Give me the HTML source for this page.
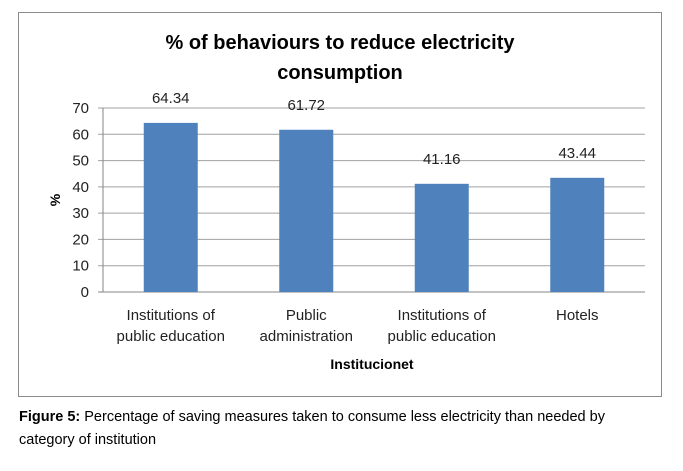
<!DOCTYPE html>
<html><head><meta charset="utf-8"><style>
body{margin:0;background:#fff;font-family:"Liberation Sans",sans-serif;}
.cap{position:absolute;left:19px;font-size:14.5px;color:#000;}
</style></head><body>
<div style="position:relative;width:683px;height:471px;">
<svg width="683" height="400" style="position:absolute;left:0;top:0">
<rect x="18.5" y="12.5" width="643" height="384" fill="#fff" stroke="#8c8c8c"/>
<text x="340" y="49" text-anchor="middle" font-size="20" font-weight="bold">% of behaviours to reduce electricity</text>
<text x="340" y="79" text-anchor="middle" font-size="20" font-weight="bold">consumption</text>
<text transform="translate(60,200) rotate(-90)" text-anchor="middle" font-size="14" font-weight="bold">%</text>
<text x="372" y="369" text-anchor="middle" font-size="14" font-weight="bold">Institucionet</text>
<g id="plot"></g>
</svg>
<div class="cap" style="top:409px"><b>Figure 5:</b> Percentage of saving measures taken to consume less electricity than needed by</div>
<div class="cap" style="top:432px">category of institution</div>
</div>
<script>
const categories=[["Institutions of","public education"],["Public","administration"],["Institutions of","public education"],["Hotels"]];
const values=[64.34,61.72,41.16,43.44];
const valueLabels=["64.34","61.72","41.16","43.44"];
const ticks=[0,10,20,30,40,50,60,70];
const NS="http://www.w3.org/2000/svg";
const g=document.getElementById('plot');
const x0=103,x1=645,y0=292,y1=108,max=70;
const yS=v=>y0-(v/max)*(y0-y1);
const bw=(x1-x0)/categories.length;
const xC=i=>x0+bw*(i+0.5);
function mk(t,a){const e=document.createElementNS(NS,t);for(const k in a)e.setAttribute(k,a[k]);g.appendChild(e);return e;}
ticks.forEach(t=>{
  const l=mk('line',{x1:x0-5,x2:x1,y1:yS(t),y2:yS(t),stroke:t===0?'#868686':'#a0a0a0','stroke-width':1});
  
  
  const tx=mk('text',{x:x0-14,y:yS(t)+5,'text-anchor':'end','font-size':15,fill:'#222'});
  tx.textContent=t;
  
  
});
const ax=mk('line',{x1:x0,x2:x0,y1:y1,y2:y0,stroke:'#868686'});


values.forEach((v,i)=>{
  const r=mk('rect',{x:xC(i)-27,y:yS(v),width:54,height:y0-yS(v),fill:'#4f81bd'});
  
  
  const t=mk('text',{x:xC(i),y:yS(v)-20,'text-anchor':'middle','font-size':15,fill:'#222'});
  t.textContent=valueLabels[i];
  
  
  categories[i].forEach((s,j)=>{
    const c=mk('text',{x:xC(i),y:320+j*21,'text-anchor':'middle','font-size':15,fill:'#222'});
    c.textContent=s;
    
    
  });
});
</script>
</body></html>
